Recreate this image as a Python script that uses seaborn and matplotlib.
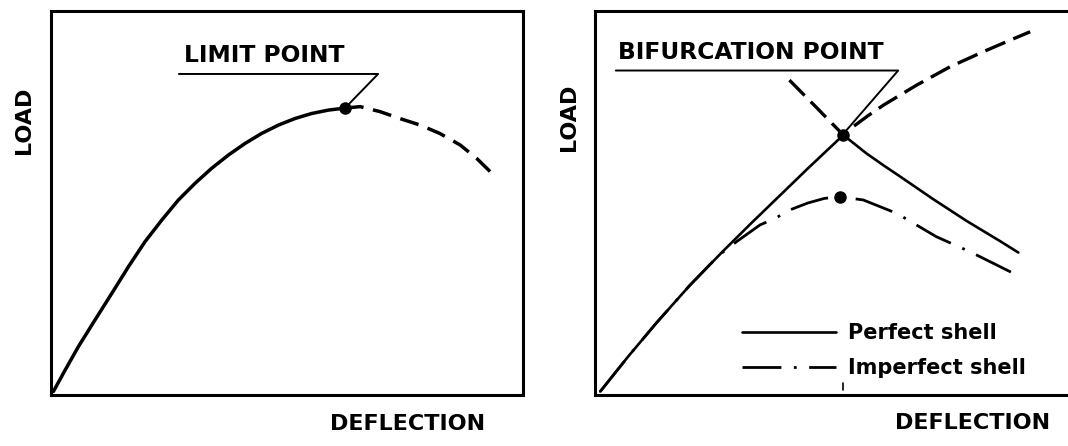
import matplotlib
matplotlib.use("Agg")
import matplotlib.pyplot as plt
import seaborn as sns
import pandas as pd

# left panel: limit point curve (axes fractions)
limit_x = [0.005, 0.030, 0.058, 0.093, 0.129, 0.164, 0.199, 0.235, 0.270, 0.305, 0.340,
           0.376, 0.411, 0.446, 0.482, 0.517, 0.552, 0.588, 0.622]
limit_y = [0.009, 0.065, 0.126, 0.195, 0.265, 0.334, 0.399, 0.456, 0.508, 0.551, 0.590,
           0.625, 0.655, 0.681, 0.703, 0.720, 0.733, 0.742, 0.747]
post_limit_x = [0.622, 0.655, 0.697, 0.739, 0.782, 0.824, 0.867, 0.902, 0.941]
post_limit_y = [0.747, 0.751, 0.738, 0.720, 0.703, 0.681, 0.651, 0.616, 0.569]
limit_pt = (0.622, 0.747)

# right panel: perfect shell, secondary branch, imperfect shell
perfect_x = [0.011, 0.070, 0.130, 0.200, 0.271, 0.330, 0.377, 0.450, 0.525,
             0.574, 0.610, 0.645, 0.715, 0.786, 0.856, 0.895]
perfect_y = [0.009, 0.100, 0.188, 0.285, 0.375, 0.447, 0.503, 0.590, 0.677,
             0.629, 0.598, 0.569, 0.510, 0.453, 0.401, 0.371]
branch_x = [0.411, 0.468, 0.525, 0.546, 0.578, 0.610, 0.680, 0.751, 0.821, 0.870, 0.920]
branch_y = [0.820, 0.749, 0.677, 0.699, 0.728, 0.755, 0.807, 0.855, 0.894, 0.920, 0.946]
imperfect_x = [0.011, 0.070, 0.130, 0.200, 0.262, 0.300, 0.349, 0.381, 0.412, 0.450, 0.485,
               0.518, 0.567, 0.638, 0.722, 0.793, 0.899]
imperfect_y = [0.009, 0.100, 0.188, 0.285, 0.364, 0.400, 0.443, 0.460, 0.482, 0.500, 0.512,
               0.516, 0.508, 0.473, 0.412, 0.373, 0.308]
bifurcation_pt = (0.525, 0.677)
imperfect_peak = (0.518, 0.516)

sns.set_style("white")
plt.rcParams['font.family'] = ['DejaVu Sans']
plt.rcParams['text.color'] = 'black'

fig = plt.figure(figsize=(10.68, 4.46), dpi=100)
ax1 = fig.add_axes([51 / 1068, 51 / 446, 472 / 1068, 384 / 446])
ax2 = fig.add_axes([595 / 1068, 51 / 446, 473 / 1068, 384 / 446])

# ---- left panel ----
df = pd.DataFrame({"x": limit_x, "y": limit_y})
sns.lineplot(data=df, x="x", y="y", sort=False, estimator=None, color="black", lw=2.5, ax=ax1)
df = pd.DataFrame({"x": post_limit_x, "y": post_limit_y})
sns.lineplot(data=df, x="x", y="y", sort=False, estimator=None, color="black", lw=2.5, ax=ax1)
ax1.lines[-1].set_dashes((5.5, 2.8))
ax1.plot([limit_pt[0]], [limit_pt[1]], "o", color="black", ms=8)
ax1.plot([0.271, 0.693, 0.633], [0.836, 0.836, 0.760], color="black", lw=1.4)
ax1.text(0.282, 0.883, "LIMIT POINT", fontsize=16.8, fontweight="bold", ha="left", va="center")

# ---- right panel ----
df = pd.DataFrame({"x": perfect_x, "y": perfect_y})
sns.lineplot(data=df, x="x", y="y", sort=False, estimator=None, color="black", lw=1.9, ax=ax2)
perf_line = ax2.lines[-1]
df = pd.DataFrame({"x": branch_x, "y": branch_y})
sns.lineplot(data=df, x="x", y="y", sort=False, estimator=None, color="black", lw=2.4, ax=ax2)
ax2.lines[-1].set_dashes((6.5, 2.6))
df = pd.DataFrame({"x": imperfect_x, "y": imperfect_y})
sns.lineplot(data=df, x="x", y="y", sort=False, estimator=None, color="black", lw=2.0, ax=ax2)
imp_line = ax2.lines[-1]
imp_line.set_dashes((14, 4.5, 1, 4.5))
ax2.plot([bifurcation_pt[0], imperfect_peak[0]], [bifurcation_pt[1], imperfect_peak[1]], "o",
         color="black", ms=8)
ax2.plot([0.044, 0.641, 0.532], [0.845, 0.845, 0.690], color="black", lw=1.4)
ax2.plot([bifurcation_pt[0], bifurcation_pt[0]], [0.013, 0.032], color="black", lw=1.2)
ax2.text(0.048, 0.893, "BIFURCATION POINT", fontsize=16.8, fontweight="bold", ha="left", va="center")

ax2.legend([perf_line, imp_line], ["Perfect shell", "Imperfect shell"], loc="lower left",
           bbox_to_anchor=(0.294, 0.023), borderaxespad=0, frameon=False, handlelength=4.5,
           handletextpad=0.58, labelspacing=0.7, prop={"size": 15, "weight": "bold"})

for ax in (ax1, ax2):
    ax.set_xlim(0, 1)
    ax.set_ylim(0, 1)
    ax.set_xticks([])
    ax.set_yticks([])
    ax.set_xlabel("")
    ax.set_ylabel("")
    for s in ax.spines.values():
        s.set_color("black")
        s.set_linewidth(2.2)
ax2.spines["right"].set_visible(False)

fig.text(24 / 1068, 1 - 120 / 446, "LOAD", rotation=90, fontsize=16, fontweight="bold", ha="center", va="center")
fig.text(569 / 1068, 1 - 117 / 446, "LOAD", rotation=90, fontsize=16, fontweight="bold", ha="center", va="center")
fig.text(408 / 1068, 1 - 424 / 446, "DEFLECTION", fontsize=16, fontweight="bold", ha="center", va="center")
fig.text(973 / 1068, 1 - 423 / 446, "DEFLECTION", fontsize=16, fontweight="bold", ha="center", va="center")

fig.savefig("out.png", dpi=100, facecolor="white")
